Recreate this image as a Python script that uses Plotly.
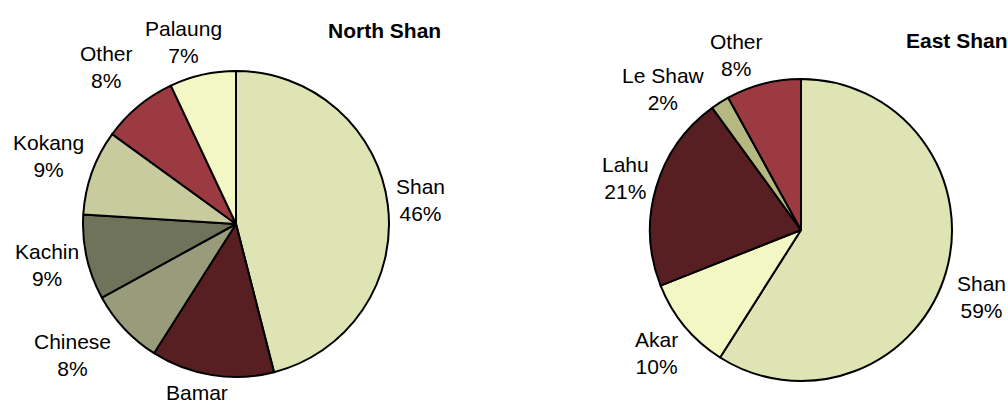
import math
import plotly.graph_objects as go

north_labels = ["Shan", "Bamar", "Chinese", "Kachin", "Kokang", "Other", "Palaung"]
north_values = [46, 13, 8, 9, 9, 8, 7]
north_colors = ["#DFE4B4", "#571F21", "#999C7A", "#6F735A", "#C8CB9E", "#9C3A41", "#F2F7C4"]

east_labels = ["Shan", "Akar", "Lahu", "Le Shaw", "Other"]
east_values = [59, 10, 21, 2, 8]
east_colors = ["#DFE4B4", "#F2F7C4", "#571F21", "#B5B880", "#9C3A41"]

W, H = 1008, 403
FS = 21
FAM = "Liberation Sans, Arial, sans-serif"
font = dict(family=FAM, size=FS, color="black")

# label placement tweaks (angle shift in degrees, extra radial px), like manual Excel label moves
north_nudge = {"Bamar": (3, -3), "Chinese": (3, 14), "Other": (0, 15), "Kokang": (1, 4),
               "Palaung": (-2.5, 0)}
east_nudge = {"Shan": (4, 8), "Le Shaw": (-10, 4), "Other": (-6, 0), "Akar": (0, 6)}

CW = {"%": .889, " ": .278, "i": .222, "l": .222, "j": .222, "t": .278, "f": .278, "r": .333,
      "k": .5, "c": .5, "s": .5, "w": .722, "m": .833, "S": .667, "K": .667, "C": .722,
      "O": .778, "P": .667, "L": .556, "B": .667, "A": .667, "E": .667, "N": .722}


def text_w(s):
    return max(sum(CW.get(ch, .556) for ch in line) for line in s.split("<br>")) * FS


def dom(cx, cy, r):
    return dict(x=[(cx - r) / W, (cx + r) / W], y=[1 - (cy + r) / H, 1 - (cy - r) / H])


def label_annots(labels, values, cx, cy, r, nudge):
    total = sum(values)
    out = []
    cum = 0
    for lab, v in zip(labels, values):
        mid = (cum + v / 2) / total * 360
        cum += v
        da, dr = nudge.get(lab, (0, 0))
        a = math.radians(mid + da)
        ux, uy = math.sin(a), -math.cos(a)
        txt = f"{lab}<br>{round(v / total * 100)}%"
        w = text_w(txt)
        h = 2 * FS * 1.3
        d = r + 8.5 + dr
        x = cx + ux * d + ux * w / 2
        y = cy + uy * d + uy * h / 2
        out.append(dict(text=txt, x=x / W, y=1 - y / H, xref="paper", yref="paper",
                        showarrow=False, font=font, xanchor="center", yanchor="middle"))
    return out


NC, NR = (236, 224), 153
EC, ER = (801, 230), 151

fig = go.Figure()
fig.add_trace(go.Pie(
    labels=north_labels, values=north_values, sort=False, direction="clockwise", rotation=0,
    marker=dict(colors=north_colors, line=dict(color="black", width=2)),
    textinfo="none", domain=dom(NC[0], NC[1], NR), showlegend=False,
    hoverinfo="label+percent",
))
fig.add_trace(go.Pie(
    labels=east_labels, values=east_values, sort=False, direction="clockwise", rotation=0,
    marker=dict(colors=east_colors, line=dict(color="black", width=2)),
    textinfo="none", domain=dom(EC[0], EC[1], ER), showlegend=False,
    hoverinfo="label+percent",
))

title_font = dict(family=FAM, size=FS, color="black")
annots = [
    dict(text="<b>North Shan</b>", x=384 / W, y=1 - 30 / H, xref="paper", yref="paper",
         showarrow=False, font=title_font, xanchor="center", yanchor="middle"),
    dict(text="<b>East Shan</b>", x=957 / W, y=1 - 40 / H, xref="paper", yref="paper",
         showarrow=False, font=title_font, xanchor="center", yanchor="middle"),
]
annots += label_annots(north_labels, north_values, NC[0], NC[1], NR, north_nudge)
annots += label_annots(east_labels, east_values, EC[0], EC[1], ER, east_nudge)

fig.update_layout(
    width=W, height=H, margin=dict(l=0, r=0, t=0, b=0),
    paper_bgcolor="white", plot_bgcolor="white",
    annotations=annots,
)
fig.write_html("out.html", config={"displayModeBar": False},
               post_script="document.body.style.margin='0';document.body.style.overflow='hidden';")
